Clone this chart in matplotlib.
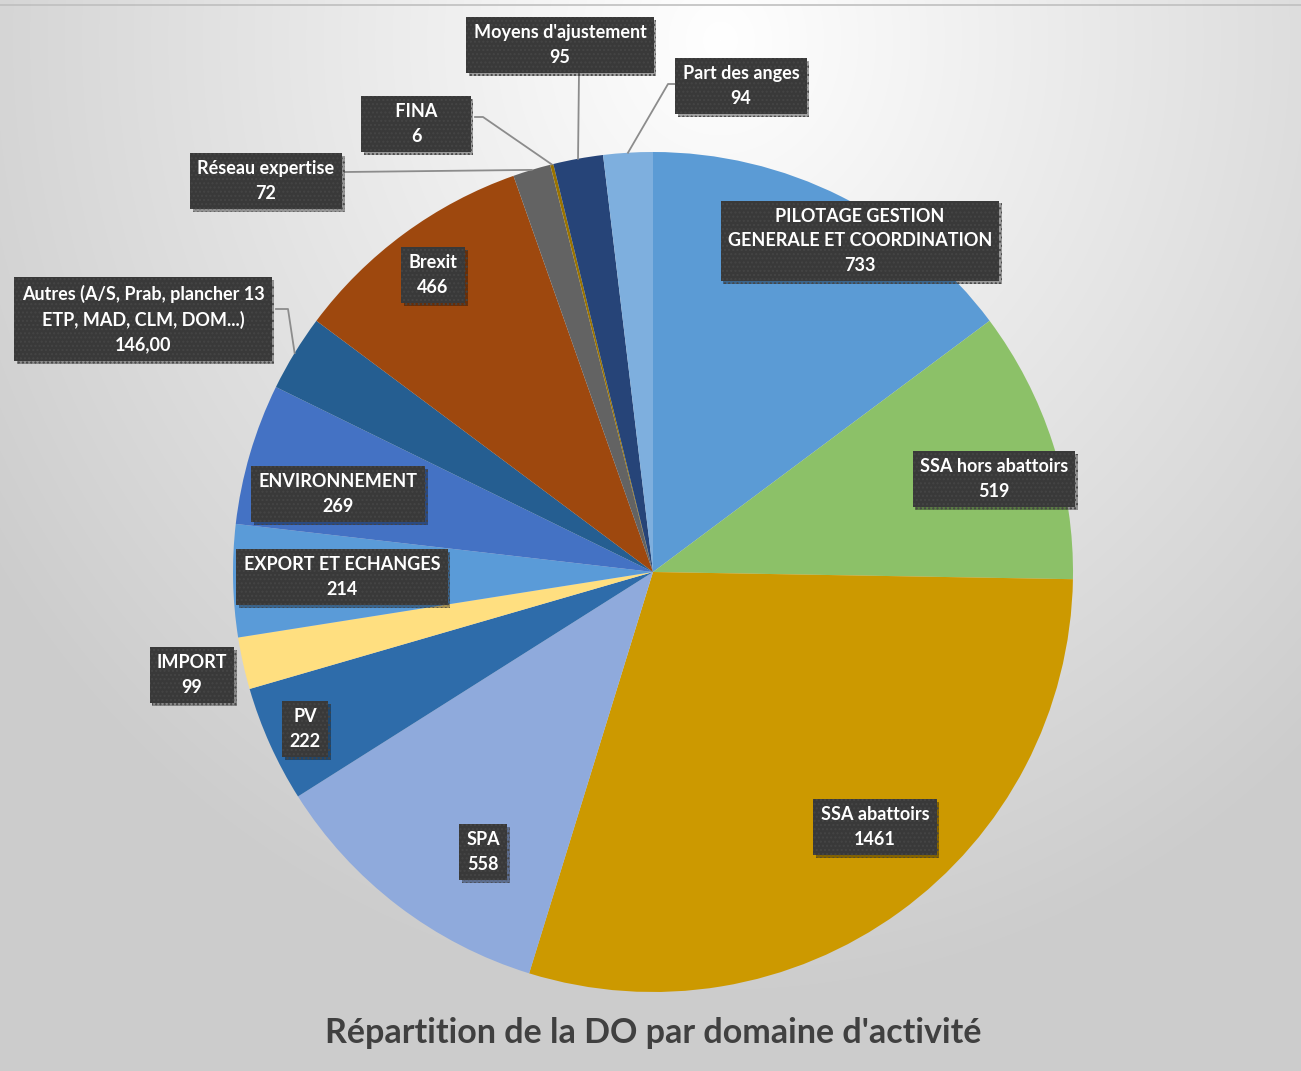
import matplotlib
matplotlib.use("Agg")
import matplotlib.pyplot as plt
import matplotlib.patheffects as pe
import numpy as np

labels = ["PILOTAGE GESTION\nGENERALE ET COORDINATION", "SSA hors abattoirs", "SSA abattoirs",
          "SPA", "PV", "IMPORT", "EXPORT ET ECHANGES", "ENVIRONNEMENT",
          "Autres (A/S, Prab, plancher 13\nETP, MAD, CLM, DOM...)", "Brexit",
          "Réseau expertise", "FINA", "Moyens d'ajustement", "Part des anges"]
values = [733, 519, 1461, 558, 222, 99, 214, 269, 146, 466, 72, 6, 95, 94]
value_text = ["733", "519", "1461", "558", "222", "99", "214", "269", "146,00", "466",
              "72", "6", "95", "94"]
colors = ["#5B9BD5", "#8CC168", "#CC9900", "#8FAADC", "#2E6CAA", "#FFDF80", "#5A9BD8",
          "#4472C4", "#255E91", "#9E480E", "#636363", "#997300", "#264478", "#7EAFDE"]

W, H = 1301, 1071
CX, CY, R = 653, 572, 420   # pie centre / radius in pixels

# label box centres in pixels (from top-left)
label_pos = [(860, 241), (994, 479), (875, 827), (483, 852), (305, 729), (192, 675),
             (342, 577), (338, 494), (143, 319), (433, 275), (266, 181), (416, 124),
             (560, 45), (741, 86)]
# leader line start points (pixels) for outside labels
leaders = {10: [(345, 172)], 11: [(475, 117), (483, 117)], 12: [(579, 72)],
           13: [(675, 84), (668, 84)], 8: [(276, 309), (288, 309)]}
# FINA box is wider than its text in the original
box_text = {11: "      FINA      "}


def to_data(px, py):
    return (px - CX) / R, (CY - py) / R


fig = plt.figure(figsize=(W / 100, H / 100), dpi=100)

# background gradient
bg = fig.add_axes([0, 0, 1, 1])
yy, xx = np.mgrid[0:H, 0:W]
d = np.sqrt(((xx - 720) / 1.0) ** 2 + ((yy - 40) / 1.1) ** 2)
v = 1 - 0.2 * np.clip(d / 880, 0, 1) ** 1.0
bg.imshow(np.dstack([v, v, v]), extent=[0, W, H, 0], aspect="auto")
bg.plot([0, W], [5, 5], color="#BFBFBF", lw=1.2)
bg.set_xlim(0, W)
bg.set_ylim(H, 0)
bg.axis("off")

ax = fig.add_axes([(CX - R) / W, (H - CY - R) / H, 2 * R / W, 2 * R / H])
wedges, _ = ax.pie(values, colors=colors, startangle=90, counterclock=False, radius=1,
                   wedgeprops=dict(linewidth=0))
ax.set_xlim(-1, 1)
ax.set_ylim(-1, 1)
ax.axis("off")

shadow = [pe.withSimplePatchShadow(offset=(2, -2), shadow_rgbFace="#000000", alpha=0.35)]
for i, w in enumerate(wedges):
    x, y = to_data(*label_pos[i])
    name = box_text.get(i, labels[i])
    t = ax.text(x, y, name + "\n" + value_text[i], ha="center", va="center",
                color="white", fontsize=13, fontweight="bold", family="Lato",
                linespacing=1.55, zorder=5,
                bbox=dict(boxstyle="square,pad=0.4", fc="#393939", ec="#454545",
                          lw=0, hatch="...."))
    t.get_bbox_patch().set_path_effects(shadow)
    if i in leaders:
        mid = np.deg2rad((w.theta1 + w.theta2) / 2)
        pts = [to_data(*p) for p in leaders[i]] + [(np.cos(mid), np.sin(mid))]
        ax.plot([p[0] for p in pts], [p[1] for p in pts], color="#8C8C8C", lw=1.3,
                clip_on=False, zorder=4)

fig.text(653 / W, 1 - 1033 / H, "Répartition de la DO par domaine d'activité",
         ha="center", va="center", fontsize=24.5, fontweight="bold", color="#404040",
         family="Lato")

fig.savefig("out.png", dpi=100)
